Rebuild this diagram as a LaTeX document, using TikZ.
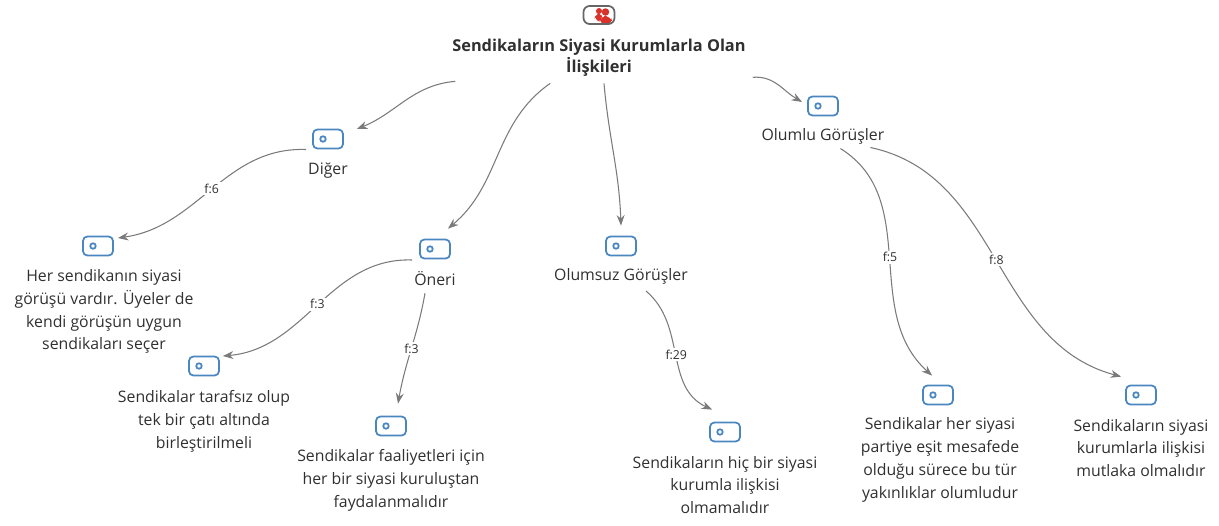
\documentclass[tikz,border=0pt]{standalone}
\usepackage{fontspec}
\setmainfont{Open Sans}
\usetikzlibrary{arrows.meta}
\definecolor{tagblue}{HTML}{4A86C0}
\definecolor{rootgray}{HTML}{666666}
\definecolor{rootred}{HTML}{D8322A}
\definecolor{linkgray}{HTML}{7A7A7A}
\definecolor{textgray}{HTML}{303030}
\tikzstyle{tag} = [rectangle, rounded corners=2.5pt, minimum width=0.6cm, minimum height=0.38cm, inner sep=0pt, draw=tagblue, line width=1pt, path picture={\draw [tagblue, line width=1pt] ([xshift=0.2cm]path picture bounding box.west) circle (0.055cm);}]
\tikzstyle{roottag} = [rectangle, rounded corners=3.5pt, minimum width=0.62cm, minimum height=0.36cm, inner sep=0pt, draw=rootgray, line width=1pt, path picture={\fill [rootred] ([xshift=0.13cm,yshift=0.06cm]path picture bounding box.center) circle (0.075cm); \fill [rootred] ([xshift=0cm,yshift=0.08cm]path picture bounding box.center) circle (0.06cm); \fill [rootred] ([xshift=-0.1cm,yshift=-0.12cm]path picture bounding box.center) -- ++(0.04,0.16) -- ++(0.1,0.02) -- ++(0.04,-0.18) -- cycle; \fill [rootred] ([xshift=0cm,yshift=-0.18cm]path picture bounding box.center) -- ++(0.03,0.16) -- ++(0.2,0) -- ++(0.05,-0.16) -- cycle;}]
\tikzstyle{rootlabel} = [text centered, align=center, text=textgray, font=\fontsize{9.3pt}{12pt}\selectfont\bfseries, inner sep=1pt]
\tikzstyle{label} = [text centered, align=center, text=textgray, font=\fontsize{9pt}{13pt}\selectfont, inner sep=1pt]
\tikzstyle{arrow} = [linkgray, line width=0.6pt, ->, >={Stealth[length=6pt,width=4.5pt]}]
\tikzstyle{freq} = [fill=white, text=textgray, font=\fontsize{7pt}{8pt}\selectfont, inner sep=1pt]

\begin{document}
\begin{tikzpicture}[node distance=0.6cm]
  \useasboundingbox (-11.98,0.3) rectangle (12.4,-10.2);
  \node (rootIcon) [roottag] at (0,0) {};
  \node (root) [rootlabel, below of=rootIcon, yshift=-0.25cm] {Sendikaların Siyasi Kurumlarla Olan\\İlişkileri};

  \node (digerIcon) [tag, below of=rootIcon, xshift=-5.42cm, yshift=-1.88cm] {};
  \node (diger) [label, below of=digerIcon, yshift=-0.03cm] {Diğer};
  \node (herIcon) [tag, below of=digerIcon, xshift=-4.6cm, yshift=-1.54cm] {};
  \node (her) [label, below of=herIcon, xshift=0.12cm, yshift=-0.71cm] {Her sendikanın siyasi\\görüşü vardır. Üyeler de\\kendi görüşün uygun\\sendikaları seçer};

  \node (oneriIcon) [tag, below of=rootIcon, xshift=-3.28cm, yshift=-4.08cm] {};
  \node (oneri) [label, below of=oneriIcon] {Öneri};
  \node (catiIcon) [tag, below of=oneriIcon, xshift=-4.62cm, yshift=-1.74cm] {};
  \node (cati) [label, below of=catiIcon, yshift=-0.5cm] {Sendikalar tarafsız olup\\tek bir çatı altında\\birleştirilmeli};
  \node (faalIcon) [tag, below of=oneriIcon, xshift=-0.88cm, yshift=-2.94cm] {};
  \node (faal) [label, below of=faalIcon, yshift=-0.48cm] {Sendikalar faaliyetleri için\\her bir siyasi kuruluştan\\faydalanmalıdır};

  \node (olumsuzIcon) [tag, below of=rootIcon, xshift=0.44cm, yshift=-4.02cm] {};
  \node (olumsuz) [label, below of=olumsuzIcon] {Olumsuz Görüşler};
  \node (hicIcon) [tag, below of=olumsuzIcon, xshift=2.08cm, yshift=-3.12cm] {};
  \node (hic) [label, below of=hicIcon, yshift=-0.46cm] {Sendikaların hiç bir siyasi\\kurumla ilişkisi\\olmamalıdır};

  \node (olumluIcon) [tag, below of=rootIcon, xshift=4.48cm, yshift=-1.22cm] {};
  \node (olumlu) [label, below of=olumluIcon] {Olumlu Görüşler};
  \node (esitIcon) [tag, below of=olumluIcon, xshift=2.3cm, yshift=-5.18cm] {};
  \node (esit) [label, below of=esitIcon, xshift=0.04cm, yshift=-0.7cm] {Sendikalar her siyasi\\partiye eşit mesafede\\olduğu sürece bu tür\\yakınlıklar olumludur};
  \node (mutlakaIcon) [tag, below of=olumluIcon, xshift=6.36cm, yshift=-5.18cm] {};
  \node (mutlaka) [label, below of=mutlakaIcon, yshift=-0.46cm] {Sendikaların siyasi\\kurumlarla ilişkisi\\mutlaka olmalıdır};

  \draw [arrow] ([xshift=0.1cm,yshift=-0.06cm]root.south west) to[out=185,in=22] ([xshift=0.26cm,yshift=0.2cm]digerIcon.east);
  \draw [arrow] ([xshift=2cm,yshift=-0.1cm]root.south west) to[out=215,in=40] ([xshift=0.26cm,yshift=0.2cm]oneriIcon.north);
  \draw [arrow] ([xshift=0.1cm,yshift=-0.1cm]root.south) to[out=-85,in=92] ([yshift=0.2cm]olumsuzIcon.north);
  \draw [arrow] ([xshift=0.1cm,yshift=0.02cm]root.south east) to[out=5,in=150] ([xshift=-0.1cm,yshift=0.08cm]olumluIcon.west);

  \draw [arrow] ([yshift=0.42cm]diger.west) to[out=178,in=8] node[freq] (f1) {f:6} ([xshift=0.08cm,yshift=0.16cm]herIcon.east);
  \draw [arrow] ([yshift=0.38cm]oneri.west) to[out=178,in=5] node[freq] (f2) {f:3} ([xshift=0.06cm,yshift=0.2cm]catiIcon.east);
  \draw [arrow] ([xshift=-0.2cm,yshift=-0.1cm]oneri.south) to[out=-100,in=80] node[freq] (f3) {f:3} ([xshift=0.14cm,yshift=0.24cm]faalIcon.north);
  \draw [arrow] ([xshift=0.5cm,yshift=-0.1cm]olumsuz.south) to[out=-40,in=155] node[freq] (f4) {f:29} ([xshift=0.06cm,yshift=0.24cm]hicIcon.north west);
  \draw [arrow] ([xshift=-0.92cm,yshift=-0.05cm]olumlu.south east) to[out=-32,in=138] node[freq] (f5) {f:5} ([xshift=0.2cm,yshift=0.18cm]esitIcon.north west);
  \draw [arrow] ([xshift=-0.32cm,yshift=-0.03cm]olumlu.south east) to[out=-12,in=165] node[freq] (f6) {f:8} ([xshift=-0.08cm,yshift=0.16cm]mutlakaIcon.north west);
\end{tikzpicture}
\end{document}
